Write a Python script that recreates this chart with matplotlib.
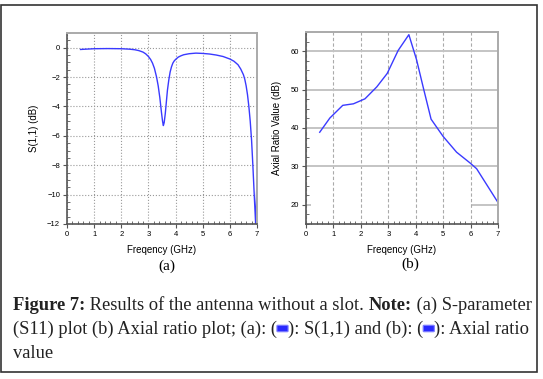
import numpy as np
import matplotlib
matplotlib.use("Agg")
import matplotlib.pyplot as plt
import matplotlib.ticker as mticker
from matplotlib.patches import Rectangle, FancyBboxPatch

# S(1,1) curve
s11_freq = [0.5, 1.0, 1.5, 2.0, 2.3, 2.5, 2.65, 2.8, 2.9, 3.0, 3.08, 3.15, 3.22, 3.3, 3.36, 3.42,
            3.48, 3.52, 3.55, 3.58, 3.62, 3.66, 3.7, 3.75, 3.8, 3.85, 3.9, 3.95, 4.0, 4.1, 4.2,
            4.3, 4.5, 4.75, 5.0, 5.25, 5.5, 5.75, 6.0, 6.15, 6.3, 6.4, 6.5, 6.55, 6.6, 6.65, 6.7,
            6.75, 6.8, 6.85, 6.9, 6.95, 7.0]
s11_db = [-0.12, -0.07, -0.06, -0.07, -0.1, -0.14, -0.2, -0.3, -0.42, -0.6, -0.8, -1.05, -1.4,
          -2.0, -2.6, -3.4, -4.4, -5.0, -5.3, -5.1, -4.5, -3.7, -2.9, -2.2, -1.65, -1.3, -1.05,
          -0.9, -0.8, -0.64, -0.55, -0.48, -0.41, -0.37, -0.39, -0.43, -0.5, -0.6, -0.77, -0.92,
          -1.16, -1.45, -1.84, -2.15, -2.6, -3.2, -4.0, -5.0, -6.3, -8.1, -10.1, -12.0, -9.0]

# axial ratio
ar_freq = [0.5, 0.87, 1.34, 1.73, 2.15, 2.58, 2.96, 3.36, 3.75, 4.03, 4.28, 4.56, 5.0, 5.49, 5.98, 6.22, 7.0]
ar_db = [38.9, 42.6, 45.9, 46.3, 47.6, 50.7, 54.2, 60.2, 64.3, 57.8, 50.4, 42.3, 37.8, 33.7, 30.9, 29.4, 20.6]

W, H = 543, 379
LINE = '#3a3aff'
SANS = 'Liberation Sans'
SERIF = 'Liberation Serif'

fig = plt.figure(figsize=(W / 100, H / 100), dpi=100)
fig.patches.append(Rectangle((1 / W, 1 - 372 / H), 536 / W, 367 / H, transform=fig.transFigure,
                             fill=False, ec='#333333', lw=1.2))


def style_axes(ax):
    for s in ['left', 'bottom']:
        ax.spines[s].set_color('#555555')
        ax.spines[s].set_linewidth(1.2)
    for s in ['top', 'right']:
        ax.spines[s].set_color('#aaaaaa')
        ax.spines[s].set_linewidth(1.4)
    ax.tick_params(which='major', direction='out', length=3, width=0.8, color='#555555',
                   labelsize=5.5, pad=2, top=False, right=False)
    ax.tick_params(which='minor', direction='in', length=2, width=0.6, color='#555555',
                   top=False, right=False)
    for lab in ax.get_xticklabels() + ax.get_yticklabels():
        lab.set_family(SANS)
    ax.set_axisbelow(True)


# ---- panel (a)
ax1 = fig.add_axes([67 / W, 1 - 224 / H, 190 / W, 191 / H])
ax1.plot(s11_freq, s11_db, '-', color=LINE, lw=1.0, clip_on=True)
ax1.set_xlim(0, 7)
ax1.set_ylim(-12, 1)
ax1.set_xticks(range(0, 8))
ax1.set_yticks(range(-12, 1, 2))
ax1.xaxis.set_minor_locator(mticker.AutoMinorLocator(5))
ax1.yaxis.set_minor_locator(mticker.AutoMinorLocator(4))
ax1.grid(True, which='major', color='#999999', ls=':', lw=0.8)
style_axes(ax1)
ax1.set_xlabel('Freqency (GHz)', family=SANS, fontsize=7, labelpad=5)
ax1.set_ylabel('S(1,1) (dB)', family=SANS, fontsize=7, labelpad=6)
fig.text(167 / W, 1 - 266 / H, '(a)', family=SERIF, fontsize=11, ha='center', va='center')

# ---- panel (b)
ax2 = fig.add_axes([306 / W, 1 - 224 / H, 192 / W, 192 / H])
ax2.plot(ar_freq, ar_db, '-', color=LINE, lw=1.0)
ax2.set_xlim(0, 7)
ax2.set_ylim(15, 65)
ax2.set_xticks(range(0, 8))
ax2.set_yticks([20, 30, 40, 50, 60])
ax2.xaxis.set_minor_locator(mticker.AutoMinorLocator(5))
ax2.yaxis.set_minor_locator(mticker.AutoMinorLocator(4))
ax2.xaxis.grid(True, color='#aaaaaa', ls=(0, (3, 2)), lw=0.8)
ax2.yaxis.grid(True, color='#c4c4c4', ls='-', lw=1.4)
style_axes(ax2)
# the 20 dB grid line only shows at the edges in the original
ax2.yaxis.get_major_ticks()[0].gridline.set_visible(False)
ax2.hlines(20, 0, 0.2, color='#c4c4c4', lw=1.4, zorder=0.5)
ax2.hlines(20, 6, 7, color='#c4c4c4', lw=1.4, zorder=0.5)
ax2.set_xlabel('Freqency (GHz)', family=SANS, fontsize=7, labelpad=5)
ax2.set_ylabel('Axial Ratio Value (dB)', family=SANS, fontsize=7, labelpad=6)
fig.text(410 / W, 1 - 264 / H, '(b)', family=SERIF, fontsize=11, ha='center', va='center')

# ---- caption, laid out piece by piece
renderer = fig.canvas.get_renderer()


def piece_width(s, size, weight):
    t1 = fig.text(0, 0, 'x' + s + 'x', family=SERIF, fontsize=size, weight=weight)
    t2 = fig.text(0, 0, 'xx', family=SERIF, fontsize=size, weight=weight)
    w = t1.get_window_extent(renderer).width - t2.get_window_extent(renderer).width
    t1.remove()
    t2.remove()
    return w


line1 = [('Figure 7:', 'bold'), (' Results of the antenna without a slot. ', 'normal'),
         ('Note:', 'bold'), (' (a) S-parameter', 'normal')]
line2 = [('(S11) plot (b) Axial ratio plot; (a): (', 'normal'), ('SWATCH', None),
         ('): S(1,1) and (b): (', 'normal'), ('SWATCH', None), ('): Axial ratio', 'normal')]
line3 = [('value', 'normal')]

# fit the font size so the first line spans the same width as the reference
base = 12.0
w0 = sum(piece_width(s, base, wt) for s, wt in line1)
cap_size = base * 518 / w0
sw_w = 11


def draw_line(pieces, x0, ybase):
    x = x0
    for s, wt in pieces:
        if s == 'SWATCH':
            fig.patches.append(FancyBboxPatch(((x + 1) / W, 1 - (ybase - 3) / H), (sw_w - 2) / W, 5 / H,
                                              boxstyle='round,pad=0.002', transform=fig.transFigure,
                                              fc='#2a2aff', ec='#8080ff', lw=0.8))
            x += sw_w
        else:
            fig.text(x / W, 1 - ybase / H, s, family=SERIF, fontsize=cap_size, weight=wt,
                     va='baseline', ha='left', color='#222222')
            x += piece_width(s, cap_size, wt)


draw_line(line1, 13, 310)
draw_line(line2, 13, 334)
draw_line(line3, 13, 358)

plt.savefig('out.png', dpi=100)
